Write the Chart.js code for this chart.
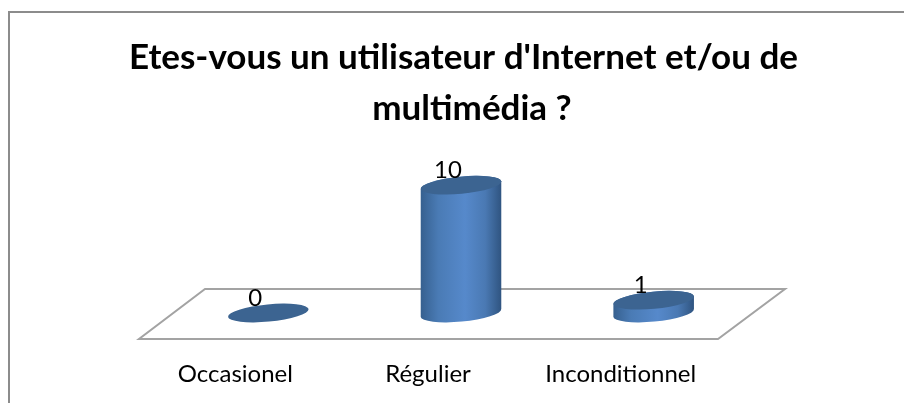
<!DOCTYPE html>
<html><head><meta charset="utf-8">
<style>html,body{margin:0;padding:0;background:#fff;overflow:hidden}#w{width:904px;height:403px;position:relative}</style>
<script src="https://cdn.jsdelivr.net/npm/chart.js@4"></script>
</head><body><div id="w"><canvas id="c" width="904" height="403"></canvas></div>
<script>
const categories = ["Occasionel", "Régulier", "Inconditionnel"];
const values = [0, 10, 1];
const titleLines = ["Etes-vous un utilisateur d'Internet et/ou de", "  multimédia ?"];

const RY = 8.6, ROT = -5.5 * Math.PI / 180;
const cylinders = {
  id: 'cylinders',
  beforeDatasetsDraw(chart) {
    const ctx = chart.ctx, a = chart.chartArea;
    ctx.save();
    // outer frame
    ctx.strokeStyle = '#8c8c8c'; ctx.lineWidth = 2;
    ctx.beginPath(); ctx.moveTo(9, 403); ctx.lineTo(9, 12); ctx.lineTo(904, 12); ctx.stroke();
    // floor derived from the plot area
    ctx.strokeStyle = '#a3a3a3'; ctx.lineWidth = 2;
    ctx.beginPath();
    ctx.moveTo(a.left - 33, a.bottom + 26);
    ctx.lineTo(a.right - 32, a.bottom + 26);
    ctx.lineTo(a.right + 35, a.bottom - 24);
    ctx.lineTo(a.left + 33, a.bottom - 24);
    ctx.closePath(); ctx.stroke();
    ctx.restore();
  },
  afterDatasetsDraw(chart) {
    const ctx = chart.ctx;
    chart.getDatasetMeta(0).data.forEach((el, i) => {
      const cx = el.x, top = el.y, base = el.base, rx = el.width / 2;
      ctx.save();
      if (base - top > 0.5) {
        const g = ctx.createLinearGradient(cx - rx, 0, cx + rx, 0);
        g.addColorStop(0, '#36608f'); g.addColorStop(0.22, '#4a7bb5');
        g.addColorStop(0.55, '#5689cb'); g.addColorStop(0.8, '#4a79b3'); g.addColorStop(1, '#2f5480');
        ctx.fillStyle = g;
        ctx.beginPath();
        ctx.ellipse(cx, base, rx, RY, ROT, 0, Math.PI);
        ctx.ellipse(cx, top, rx, RY, ROT, Math.PI, 2 * Math.PI);
        ctx.closePath(); ctx.fill();
      }
      ctx.fillStyle = '#3c6491';
      ctx.beginPath(); ctx.ellipse(cx, top, rx, RY, ROT, 0, 2 * Math.PI); ctx.fill();
      ctx.fillStyle = '#000';
      ctx.font = '24px Lato'; ctx.textAlign = 'center'; ctx.textBaseline = 'middle';
      ctx.fillText(String(values[i]), cx - 13, top - 15);
      ctx.restore();
    });
  }
};

const hiddenAxis = (position, width) => ({
  position, display: true, min: 0, max: 10,
  grid: { display: false }, border: { display: false }, ticks: { display: false },
  afterFit(s) { s.width = width; }
});

new Chart(document.getElementById('c'), {
  type: 'bar',
  data: { labels: categories, datasets: [{ data: values, yAxisID: 'y', backgroundColor: 'rgba(0,0,0,0)', borderWidth: 0, categoryPercentage: 1, barPercentage: 0.42 }] },
  options: {
    responsive: false, animation: false,
    layout: { padding: { left: 23, right: 0, top: 0, bottom: 14 } },
    plugins: {
      legend: { display: false }, tooltip: { enabled: false },
      title: { display: true, text: titleLines, color: '#000', font: { family: 'Lato', size: 35, weight: 'bold', lineHeight: 1.46 }, padding: { top: 32, bottom: 51 } }
    },
    scales: {
      x: { grid: { display: false }, border: { display: false }, ticks: { padding: 39, labelOffset: -33, color: '#000', font: { family: 'Lato', size: 24 }, maxRotation: 0 }, afterFit(s) { s.height = 76; } },
      y: hiddenAxis('left', 149),
      yRight: hiddenAxis('right', 154)
    }
  },
  plugins: [cylinders]
});
</script></body></html>
